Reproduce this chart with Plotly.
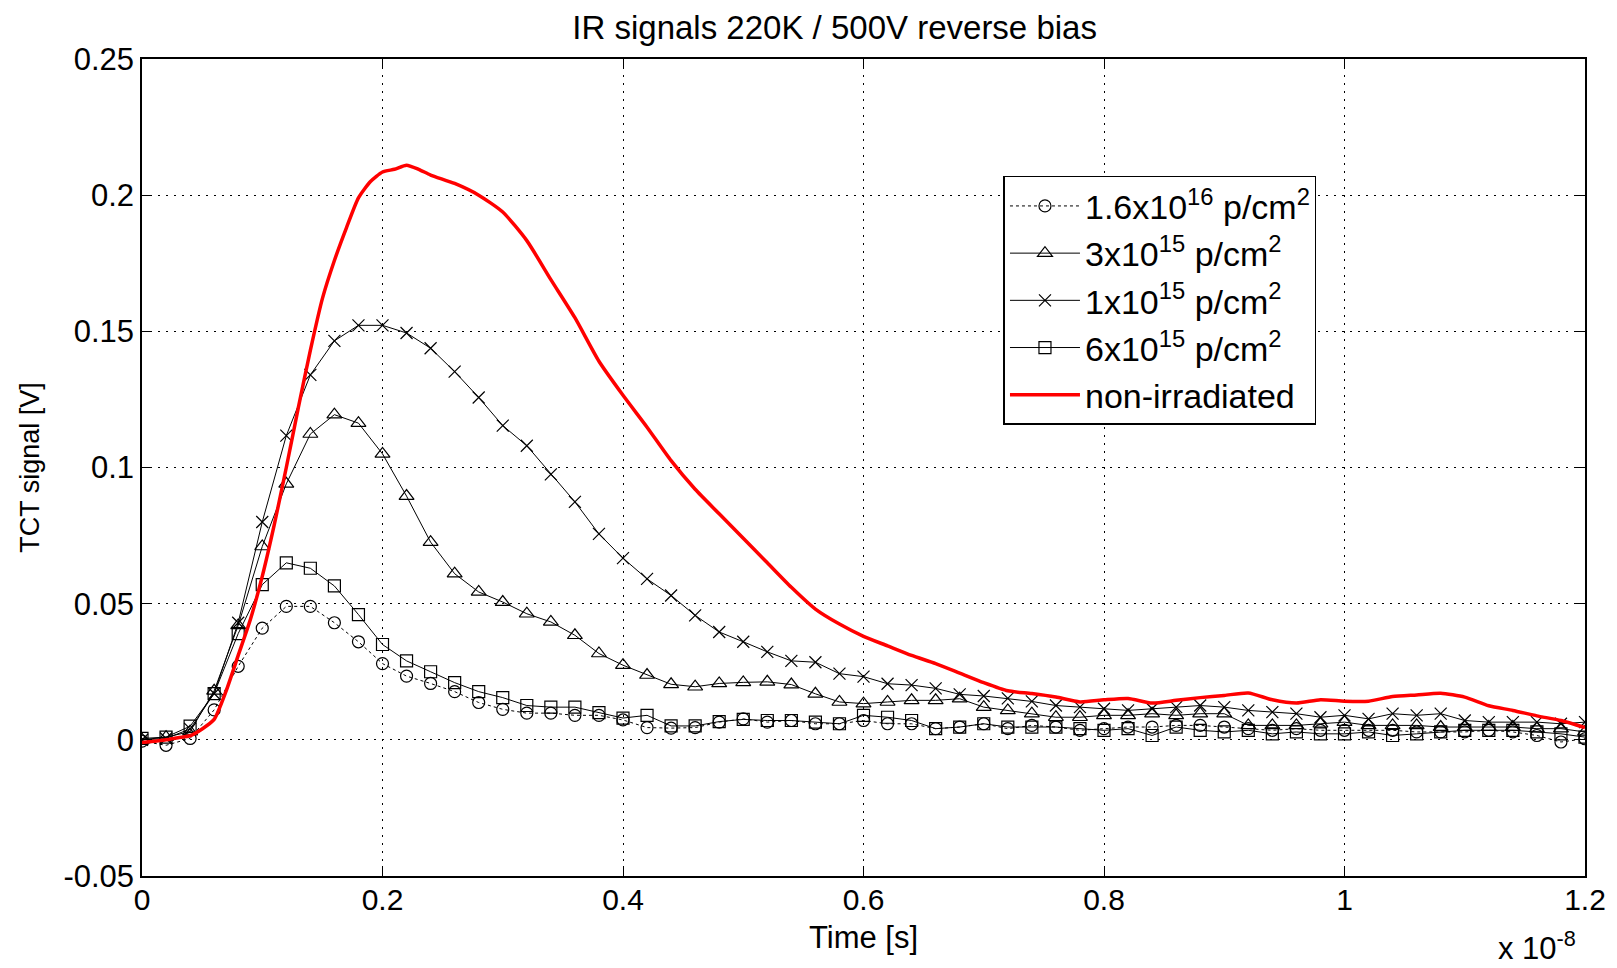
import plotly.graph_objects as go

# time axis in units of 1e-8 s
t_markers = [round(0.02 * i, 2) for i in range(61)]

circ_16e16 = [-0.0005, -0.002, 0.0005, 0.011, 0.027, 0.041, 0.049, 0.049, 0.043, 0.036,
              0.028, 0.0234, 0.0207, 0.0177, 0.0137, 0.0112, 0.0098, 0.0098, 0.009, 0.009,
              0.0073, 0.0045, 0.0043, 0.0045, 0.0065, 0.0077, 0.0065, 0.0071, 0.0059, 0.0059,
              0.0071, 0.0059, 0.0059, 0.0041, 0.0047, 0.0059, 0.0041, 0.0053, 0.0047, 0.0035,
              0.0041, 0.0047, 0.0047, 0.0053, 0.0053, 0.0047, 0.0041, 0.0035, 0.0041, 0.0035,
              0.0035, 0.0035, 0.0035, 0.0029, 0.0029, 0.0029, 0.0035, 0.0029, 0.0016, -0.0008,
              0.0004]

tri_3e15 = [0.0, 0.001, 0.003, 0.018, 0.042, 0.071, 0.094, 0.1123, 0.1194, 0.1163,
            0.105, 0.0895, 0.0726, 0.061, 0.0543, 0.0506, 0.0463, 0.0433, 0.0384, 0.0317,
            0.0274, 0.0238, 0.0204, 0.0195, 0.0207, 0.0211, 0.0213, 0.0203, 0.0169, 0.0139,
            0.0133, 0.0139, 0.0145, 0.0145, 0.0151, 0.012, 0.0108, 0.0096, 0.0083, 0.0083,
            0.009, 0.009, 0.0096, 0.009, 0.0096, 0.0096, 0.0053, 0.0053, 0.0053, 0.0059,
            0.0065, 0.0053, 0.0053, 0.0053, 0.0047, 0.0047, 0.0047, 0.0047, 0.0041, 0.0041,
            0.0029]

x_1e15 = [0.0, 0.0005, 0.004, 0.017, 0.043, 0.080, 0.1117, 0.134, 0.1465, 0.1522,
          0.1522, 0.1494, 0.1438, 0.1352, 0.1257, 0.1154, 0.108, 0.0975, 0.0874, 0.0756,
          0.0667, 0.0591, 0.053, 0.0457, 0.0396, 0.036, 0.0323, 0.029, 0.0285, 0.0243,
          0.0232, 0.0206, 0.0201, 0.0189, 0.0167, 0.0161, 0.0152, 0.0141, 0.0126, 0.012,
          0.0114, 0.0108, 0.0114, 0.012, 0.0126, 0.012, 0.0108, 0.0102, 0.0096, 0.0083,
          0.009, 0.0077, 0.0096, 0.009, 0.0096, 0.0071, 0.0065, 0.0065, 0.0065, 0.0059,
          0.0065]

sq_6e15 = [0.0005, 0.001, 0.005, 0.017, 0.039, 0.057, 0.065, 0.063, 0.0565, 0.046,
           0.035, 0.029, 0.025, 0.021, 0.0177, 0.0155, 0.0126, 0.012, 0.012, 0.010,
           0.008, 0.009, 0.0051, 0.0051, 0.0067, 0.0075, 0.0071, 0.0071, 0.0065, 0.0059,
           0.009, 0.0083, 0.0071, 0.0041, 0.0047, 0.0059, 0.0047, 0.0047, 0.0047, 0.0041,
           0.0035, 0.0041, 0.0016, 0.0047, 0.0035, 0.0029, 0.0035, 0.0022, 0.0029, 0.0022,
           0.0022, 0.0029, 0.0016, 0.0022, 0.0029, 0.0035, 0.0035, 0.0035, 0.0029, 0.0022,
           0.001]

red_t = [0.00, 0.01, 0.02, 0.03, 0.04, 0.05, 0.06, 0.07, 0.08, 0.09, 0.10, 0.11, 0.12,
         0.13, 0.14, 0.15, 0.16, 0.17, 0.18, 0.19, 0.20, 0.21, 0.22, 0.23, 0.24, 0.26,
         0.28, 0.30, 0.32, 0.34, 0.36, 0.38, 0.40, 0.42, 0.44, 0.46, 0.48, 0.50, 0.52,
         0.54, 0.56, 0.58, 0.60, 0.62, 0.64, 0.66, 0.68, 0.70, 0.72, 0.74, 0.76, 0.78,
         0.80, 0.82, 0.84, 0.86, 0.88, 0.90, 0.92, 0.94, 0.96, 0.98, 1.00, 1.02, 1.04,
         1.06, 1.08, 1.10, 1.12, 1.14, 1.16, 1.18, 1.20]
red_nonirr = [-0.001, -0.0005, 0.0, 0.0008, 0.0015, 0.004, 0.0075, 0.018, 0.031, 0.044,
              0.060, 0.079, 0.100, 0.122, 0.143, 0.162, 0.176, 0.188, 0.199, 0.205,
              0.2085, 0.2095, 0.211, 0.2095, 0.2074, 0.2043, 0.200, 0.1938, 0.1833, 0.169,
              0.155, 0.139, 0.1265, 0.1148, 0.1025, 0.092, 0.083, 0.074, 0.065, 0.056,
              0.048, 0.0425, 0.038, 0.0345, 0.031, 0.028, 0.0245, 0.021, 0.018, 0.017,
              0.0157, 0.0139, 0.0147, 0.0152, 0.0135, 0.0145, 0.0155, 0.0163, 0.0172, 0.0147,
              0.0135, 0.0147, 0.0142, 0.0142, 0.0159, 0.0165, 0.0171, 0.0157, 0.0125, 0.0108,
              0.0088, 0.0071, 0.0045]

x_ticks = [0, 0.2, 0.4, 0.6, 0.8, 1.0, 1.2]
x_tick_text = ["0", "0.2", "0.4", "0.6", "0.8", "1", "1.2"]
y_ticks = [-0.05, 0, 0.05, 0.1, 0.15, 0.2, 0.25]
y_tick_text = ["-0.05", "0", "0.05", "0.1", "0.15", "0.2", "0.25"]

FONT = "Liberation Sans, Arial, sans-serif"

fig = go.Figure()
fig.add_trace(go.Scatter(
    x=t_markers, y=circ_16e16, mode="lines+markers",
    name="1.6x10<sup>16</sup> p/cm<sup>2</sup>",
    line=dict(color="black", width=1, dash="dot"),
    marker=dict(symbol="circle-open", size=12, color="black", line=dict(width=1.2, color="black")),
))
fig.add_trace(go.Scatter(
    x=t_markers, y=tri_3e15, mode="lines+markers",
    name="3x10<sup>15</sup> p/cm<sup>2</sup>",
    line=dict(color="black", width=1),
    marker=dict(symbol="triangle-up-open", size=13, color="black", line=dict(width=1.2, color="black")),
))
fig.add_trace(go.Scatter(
    x=t_markers, y=x_1e15, mode="lines+markers",
    name="1x10<sup>15</sup> p/cm<sup>2</sup>",
    line=dict(color="black", width=1),
    marker=dict(symbol="x-thin", size=12, color="black", line=dict(width=1.2, color="black")),
))
fig.add_trace(go.Scatter(
    x=t_markers, y=sq_6e15, mode="lines+markers",
    name="6x10<sup>15</sup> p/cm<sup>2</sup>",
    line=dict(color="black", width=1),
    marker=dict(symbol="square-open", size=12, color="black", line=dict(width=1.2, color="black")),
))
fig.add_trace(go.Scatter(
    x=red_t, y=red_nonirr, mode="lines",
    name="non-irradiated",
    line=dict(color="#ff0000", width=3.5, shape="spline", smoothing=0.6),
))

axis_common = dict(
    showline=True, linecolor="black", linewidth=1.5, mirror="ticks",
    ticks="inside", ticklen=10, tickwidth=1.2, tickcolor="black",
    showgrid=True, gridcolor="black", gridwidth=1, griddash="2px,6px",
    zeroline=False, automargin=False,
)

fig.update_xaxes(
    range=[0, 1.2], tickvals=x_ticks, ticktext=x_tick_text,
    tickfont=dict(family=FONT, size=30, color="black"),
    ticklabelstandoff=-4,
    title=dict(text="Time [s]", font=dict(family=FONT, size=31, color="black"), standoff=12),
    **axis_common,
)
fig.update_yaxes(
    range=[-0.05, 0.25], tickvals=y_ticks, ticktext=y_tick_text,
    tickfont=dict(family=FONT, size=31, color="black"),
    title=dict(text="TCT signal [V]", font=dict(family=FONT, size=27, color="black"), standoff=16),
    **axis_common,
)

fig.add_annotation(
    text="x 10<sup>-8</sup>", xref="paper", yref="paper", x=0.995, y=-0.086,
    xanchor="right", yanchor="middle", showarrow=False,
    font=dict(family=FONT, size=31, color="black"),
)

fig.update_layout(
    width=1609, height=960,
    margin=dict(l=134, r=32, t=51, b=92),
    paper_bgcolor="white", plot_bgcolor="white",
    title=dict(text="IR signals 220K / 500V reverse bias", x=0.48, xref="paper",
               y=0.980, yanchor="middle", xanchor="center",
               font=dict(family=FONT, size=33, color="black")),
    legend=dict(
        x=0.597, y=0.857, xanchor="left", yanchor="top",
        bgcolor="white", bordercolor="black", borderwidth=1.5,
        font=dict(family=FONT, size=34, color="black"),
        itemwidth=70, tracegroupgap=0,
    ),
    showlegend=True,
)

fig.write_html("out.html")
